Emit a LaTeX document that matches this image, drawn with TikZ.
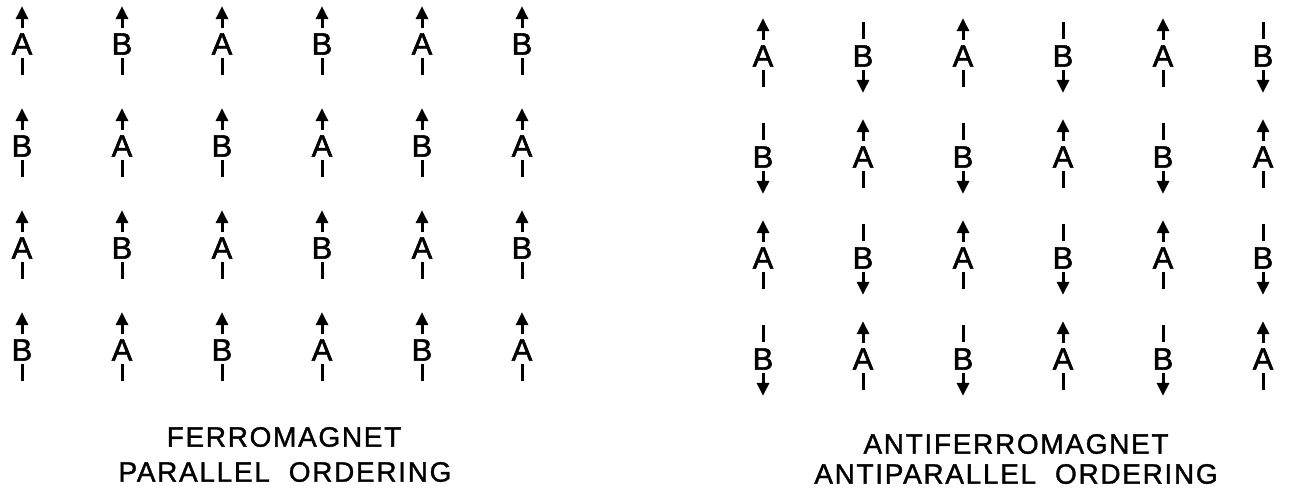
\documentclass[tikz,border=0pt]{standalone}
\usepackage{fontspec}
\setmainfont{Liberation Sans}
\newfontfamily\spinfont[FakeBold=1.6]{Liberation Sans}
\newfontfamily\capsfont[LetterSpace=6,WordSpace=2,FakeBold=1.2]{Liberation Sans}
\usetikzlibrary{arrows.meta}
\begin{document}
\begin{tikzpicture}[x=1pt,y=-1pt,
spin/.style={inner sep=0pt,font=\spinfont\fontsize{31}{31}\selectfont},
tail/.style={line width=3pt},
head/.style={line width=3pt,-{Triangle[length=13pt,width=12pt]}},
title/.style={inner sep=0pt,font=\capsfont\fontsize{28}{30}\selectfont}]
\useasboundingbox (0,0) rectangle (1289,501);
\foreach \r in {0,...,3}{
  \foreach \c in {0,...,5}{
    \pgfmathtruncatemacro{\odd}{mod(\r+\c,2)}
    \ifnum\odd=0 \def\lt{A}\else\def\lt{B}\fi
    % ferromagnet: all up
    \node[spin] (f\r\c) at (22+100*\c,44+102*\r) {\lt};
    \draw[head] ([yshift=5pt]f\r\c.north) -- ([yshift=27pt]f\r\c.north);
    \draw[tail] ([yshift=-3pt]f\r\c.south) -- ([yshift=-20pt]f\r\c.south);
    % antiferromagnet: A up, B down
    \node[spin] (a\r\c) at (763+100*\c,56+101*\r) {\lt};
    \ifnum\odd=0
      \draw[head] ([yshift=5pt]a\r\c.north) -- ([yshift=27pt]a\r\c.north);
      \draw[tail] ([yshift=-3pt]a\r\c.south) -- ([yshift=-20pt]a\r\c.south);
    \else
      \draw[tail] ([yshift=6pt]a\r\c.north) -- ([yshift=23pt]a\r\c.north);
      \draw[head] ([yshift=-3pt]a\r\c.south) -- ([yshift=-26pt]a\r\c.south);
    \fi
  }
}
\node[title] (ferro) at (284,437) {FERROMAGNET};
\node[title] (par) at (285,472) {PARALLEL ORDERING};
\node[title] (afm) at (1016,444) {ANTIFERROMAGNET};
\node[title] (apar) at (1016,474) {ANTIPARALLEL ORDERING};
\end{tikzpicture}
\end{document}
